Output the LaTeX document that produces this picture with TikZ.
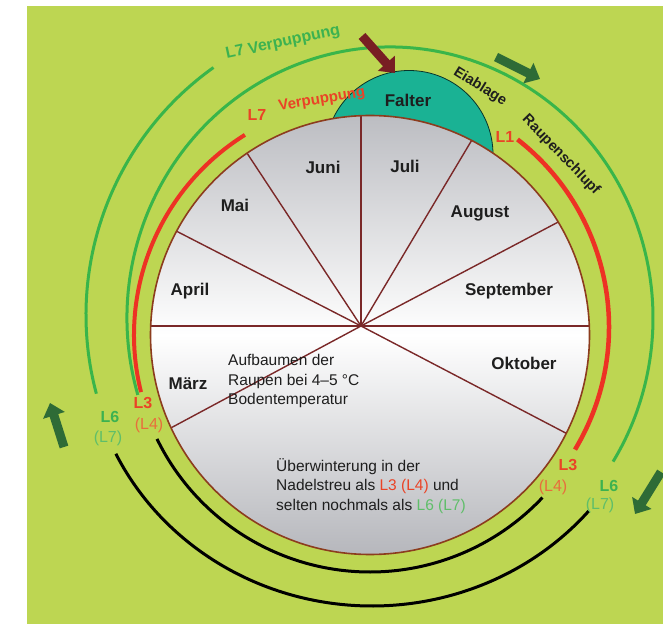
\documentclass[tikz,border=0pt]{standalone}
\usepackage{fontspec}
\setmainfont{Liberation Sans}
\usetikzlibrary{arrows.meta}
\definecolor{bggreen}{RGB}{189,214,82}
\definecolor{arcgreen}{RGB}{57,181,74}
\definecolor{txtgreen}{RGB}{60,178,80}
\definecolor{ltgreen}{RGB}{95,190,105}
\definecolor{arcred}{RGB}{237,50,36}
\definecolor{txtred}{RGB}{234,67,38}
\definecolor{txtorange}{RGB}{232,110,60}
\definecolor{capteal}{RGB}{26,178,148}
\definecolor{rimbrown}{RGB}{140,60,30}
\definecolor{spokebrown}{RGB}{122,40,40}
\definecolor{arrowgreen}{RGB}{46,107,54}
\definecolor{arrowbrown}{RGB}{120,30,35}
\definecolor{diskgray}{RGB}{188,189,194}
\definecolor{diskgrayb}{RGB}{182,183,188}
\definecolor{txtdark}{RGB}{30,30,30}
\tikzset{
  greenarc/.style={draw=arcgreen,line width=3pt},
  redarc/.style={draw=arcred,line width=4pt},
  blackarc/.style={draw=black,line width=3pt},
  spoke/.style={draw=spokebrown,line width=1.4pt},
  month/.style={font=\fontsize{17}{20}\selectfont\bfseries,text=txtdark,inner sep=0pt},
  note/.style={font=\fontsize{15.5}{19.5}\selectfont,text=txtdark,align=left,inner sep=0pt},
  lbl/.style={font=\fontsize{16}{18}\selectfont\bfseries,inner sep=0pt},
  lblp/.style={font=\fontsize{16}{18}\selectfont,inner sep=0pt},
  blockarrow/.style={draw=none,line width=9pt,-{Triangle[length=13pt,width=22pt]}},
}
\begin{document}
\begin{tikzpicture}[x=1pt,y=1pt]
\useasboundingbox (0,0) rectangle (663,624);
\fill[white] (0,0) rectangle (663,624);
\fill[bggreen] (26.5,0) rectangle (663,618);

% Falter cap
\coordinate (capc) at (409,469.5);
\filldraw[fill=capteal,draw=black!70!capteal,line width=0.8pt] (capc) circle[radius=84];
\node[month,font=\fontsize{17}{20}\selectfont\bfseries] (falter) at (408,524) {Falter};

% main disk
\coordinate (C) at (370,289);
\coordinate (S) at (361,298);
\shade[top color=diskgray,bottom color=diskgrayb,middle color=white] (C) circle[radius=219.5];
\begin{scope}
\clip (C) circle[radius=219.5];
\foreach \a in {0,27.8,59.2,90,123.4,152.8,180,208.2,332.4}
  \draw[spoke] (S) -- ++(\a:320);
\end{scope}
\draw[rimbrown,line width=1.6pt] (C) circle[radius=219.5];

% months
\node[month] (juni) at (323,457) {Juni};
\node[month] (juli) at (405,458) {Juli};
\node[month] (mai) at (235,419) {Mai};
\node[month] (aug) at (480,411) {August};
\node[month] (apr) at (190,333) {April};
\node[month] (sep) at (509,333) {September};
\node[month] (okt) at (524,261) {Oktober};
\node[month] (mar) at (188,240) {März};
\node[note,anchor=west] (aufb) at (228,243) {Aufbaumen der\\Raupen bei 4--5 °C\\Bodentemperatur};
\node[note,anchor=west] (uebw) at (276,138) {Überwinterung in der\\Nadelstreu als \textcolor{txtred}{L3 (L4)} und\\selten nochmals als \textcolor{ltgreen}{L6 (L7)}};

% arcs
\draw[redarc] (C) ++(194:236) arc[start angle=194,end angle=122,radius=236];
\draw[redarc,line width=4.5pt] (371,297) ++(52:238) arc[start angle=52,end angle=-31,radius=238];
\draw[greenarc] (390,306) ++(196.5:263 and 271) arc[start angle=196.5,end angle=-32,x radius=263,y radius=271];
\draw[greenarc] (390,309) ++(195:304) arc[start angle=195,end angle=125.5,radius=304];
\draw[blackarc] (C) ++(206:237) arc[start angle=206,end angle=316.7,radius=237];
\draw[blackarc] (372,289) ++(206:285 and 271) arc[start angle=206,end angle=319.5,x radius=285,y radius=271];

% labels
\node[lbl,text=txtred] (l3a) at (143,221) {L3};
\node[lblp,text=txtorange] (l4a) at (149,199) {(L4)};
\node[lbl,text=txtgreen] (l6a) at (110,207) {L6};
\node[lblp,text=ltgreen] (l7a) at (108,186) {(L7)};
\node[lbl,text=txtred] (l3b) at (568,159) {L3};
\node[lblp,text=txtorange] (l4b) at (553,137) {(L4)};
\node[lbl,text=txtgreen] (l6b) at (609,138) {L6};
\node[lblp,text=ltgreen] (l7b) at (600,119) {(L7)};
\node[lbl,text=txtred] (l1) at (505,487) {L1};
\node[lbl,text=txtdark,font=\fontsize{14.5}{16}\selectfont\bfseries,rotate=-32] (eia) at (480,537) {Eiablage};
\node[lbl,text=txtdark,font=\fontsize{14.5}{16}\selectfont\bfseries,rotate=-46] (rsch) at (561,469) {Raupenschlupf};
\node[lbl,text=txtgreen,rotate=12] (l7v) at (283,581) {L7 Verpuppung};
\node[lbl,text=txtred] (l7r) at (257,509) {L7};
\node[lbl,text=txtred,font=\fontsize{15}{17}\selectfont\bfseries,rotate=9.5] (verp) at (322,524) {Verpuppung};

% arrows
\coordinate (a1s) at (496,567); \coordinate (a1e) at (540,545);
\coordinate (a2s) at (64,177); \coordinate (a2e) at (50,221);
\coordinate (a3s) at (661,152); \coordinate (a3e) at (635,110);
\coordinate (a4s) at (362,588); \coordinate (a4e) at (395,551);
\draw[blockarrow,draw=arrowgreen] (a1s) -- (a1e);
\draw[blockarrow,draw=arrowgreen] (a2s) -- (a2e);
\draw[blockarrow,draw=arrowgreen] (a3s) -- (a3e);
\draw[blockarrow,draw=arrowbrown] (a4s) -- (a4e);
\end{tikzpicture}
\end{document}
